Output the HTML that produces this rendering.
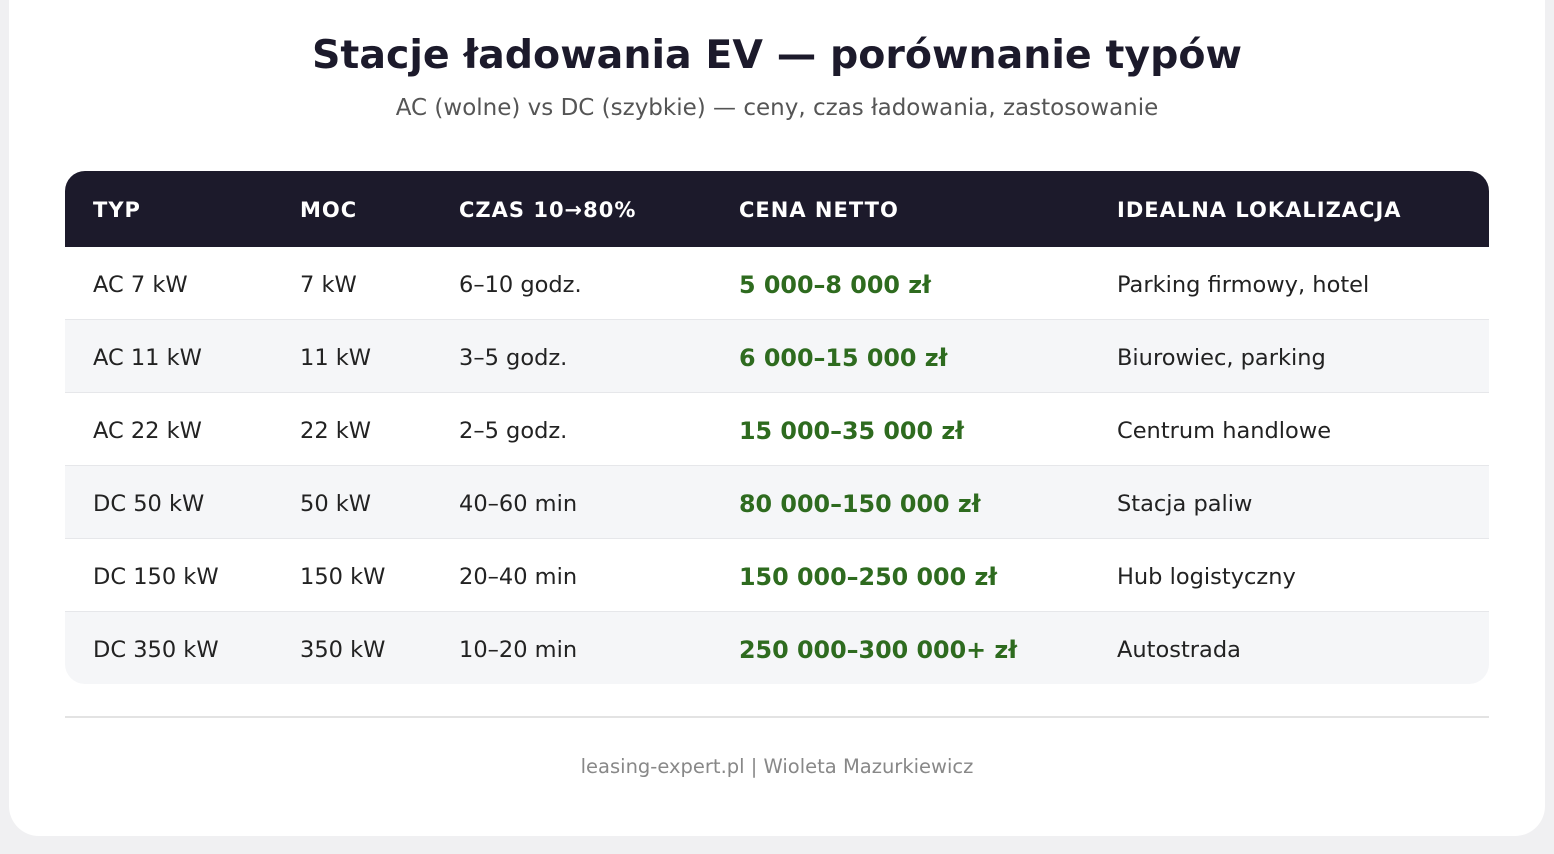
<!DOCTYPE html>
<html><head><meta charset="utf-8"><style>
body{margin:0;width:1554px;height:854px;background:#f0f0f2;font-family:"DejaVu Sans","Liberation Sans",sans-serif;position:relative;overflow:hidden}
.card{position:absolute;left:9px;top:-30px;width:1536px;height:866px;background:#fff;border-radius:30px}
.t{position:absolute;white-space:nowrap}
h1{position:absolute;left:0;width:1554px;top:32px;margin:0;text-align:center;font-size:39.5px;font-weight:bold;color:#1c1a2b}
.sub{position:absolute;left:0;width:1554px;top:95px;text-align:center;font-size:23px;color:#555}
.tbl{position:absolute;left:65px;top:171px;width:1424px;height:513px;border-radius:20px;overflow:hidden}
.hd{position:absolute;left:0;top:0;width:1424px;height:76px;background:#1c1a2b}
.hd .t{top:27px;color:#fff;font-weight:bold;font-size:21px;letter-spacing:1px}
.row{position:absolute;left:0;width:1424px;height:73px;border-top:1px solid #e6e7ea;box-sizing:border-box}
.row .t{top:25px;font-size:22.5px;color:#222}
.row .p{color:#2e6b1f;font-weight:bold;font-size:23.8px;top:24px}
.alt{background:#f5f6f8}
.line{position:absolute;left:65px;top:716px;width:1424px;height:2px;background:#e3e3e3}
.foot{position:absolute;left:0;width:1554px;top:755px;text-align:center;font-size:19.5px;color:#888}
</style></head><body>
<div class="card"></div>
<h1>Stacje ładowania EV — porównanie typów</h1>
<div class="sub">AC (wolne) vs DC (szybkie) — ceny, czas ładowania, zastosowanie</div>
<div class="tbl">
<div class="hd"><span class="t" style="left:28px">TYP</span><span class="t" style="left:235px">MOC</span><span class="t" style="left:394px">CZAS 10→80%</span><span class="t" style="left:674px">CENA NETTO</span><span class="t" style="left:1052px">IDEALNA LOKALIZACJA</span></div>
<div class="row" style="top:76px;border-top:none"><span class="t" style="left:28px">AC 7 kW</span><span class="t" style="left:235px">7 kW</span><span class="t" style="left:394px">6–10 godz.</span><span class="t p" style="left:674px">5 000–8 000 zł</span><span class="t" style="left:1052px">Parking firmowy, hotel</span></div>
<div class="row alt" style="top:148px"><span class="t" style="left:28px">AC 11 kW</span><span class="t" style="left:235px">11 kW</span><span class="t" style="left:394px">3–5 godz.</span><span class="t p" style="left:674px">6 000–15 000 zł</span><span class="t" style="left:1052px">Biurowiec, parking</span></div>
<div class="row" style="top:221px"><span class="t" style="left:28px">AC 22 kW</span><span class="t" style="left:235px">22 kW</span><span class="t" style="left:394px">2–5 godz.</span><span class="t p" style="left:674px">15 000–35 000 zł</span><span class="t" style="left:1052px">Centrum handlowe</span></div>
<div class="row alt" style="top:294px"><span class="t" style="left:28px">DC 50 kW</span><span class="t" style="left:235px">50 kW</span><span class="t" style="left:394px">40–60 min</span><span class="t p" style="left:674px">80 000–150 000 zł</span><span class="t" style="left:1052px">Stacja paliw</span></div>
<div class="row" style="top:367px"><span class="t" style="left:28px">DC 150 kW</span><span class="t" style="left:235px">150 kW</span><span class="t" style="left:394px">20–40 min</span><span class="t p" style="left:674px">150 000–250 000 zł</span><span class="t" style="left:1052px">Hub logistyczny</span></div>
<div class="row alt" style="top:440px"><span class="t" style="left:28px">DC 350 kW</span><span class="t" style="left:235px">350 kW</span><span class="t" style="left:394px">10–20 min</span><span class="t p" style="left:674px">250 000–300 000+ zł</span><span class="t" style="left:1052px">Autostrada</span></div>
</div>
<div class="line"></div>
<div class="foot">leasing-expert.pl | Wioleta Mazurkiewicz</div>
</body></html>
